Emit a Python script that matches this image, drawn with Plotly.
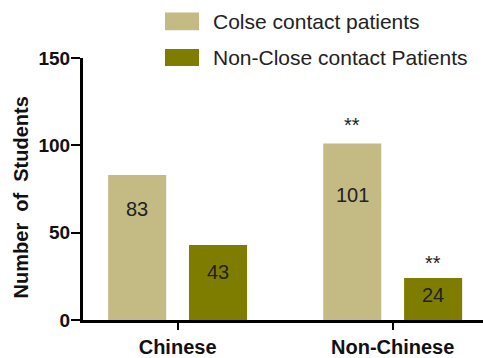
import plotly.graph_objects as go

categories = ["Chinese", "Non-Chinese"]
close_contact = [83, 101]
non_close_contact = [43, 24]
series_names = ["Colse contact patients", "Non-Close contact Patients"]
significance_close = ["", "**"]
significance_non_close = ["", "**"]
y_ticks = [0, 50, 100, 150]
y_title = "Number\u00a0 of\u00a0 Students"

C_CLOSE = "#C3BA84"
C_NON = "#7F7D00"
FONT = "Arial, Liberation Sans, sans-serif"

W, H = 483, 358
L, R, T, B = 83, 0, 58, 35
PW, PH = W - L - R, H - T - B

def px_x(px):
    return (px - L) / PW

def px_y(py):
    return (H - B - py) / PH

fig = go.Figure()
fig.add_trace(go.Bar(x=categories, y=close_contact, name=series_names[0],
                     marker=dict(color=C_CLOSE, line=dict(width=0))))
fig.add_trace(go.Bar(x=categories, y=non_close_contact, name=series_names[1],
                     marker=dict(color=C_NON, line=dict(width=0))))

annotations = []
shift = 40.5
label_offsets_close = [-34, -51]
label_offsets_non = [-27, -17]
star_offsets_close = [19, 19]
star_offsets_non = [15, 15]
for i, cat in enumerate(categories):
    annotations.append(dict(x=cat, y=close_contact[i], xref="x", yref="y",
                            text=str(close_contact[i]), showarrow=False,
                            xshift=-shift, yshift=label_offsets_close[i],
                            font=dict(family=FONT, size=20, color="#222")))
    annotations.append(dict(x=cat, y=non_close_contact[i], xref="x", yref="y",
                            text=str(non_close_contact[i]), showarrow=False,
                            xshift=shift, yshift=label_offsets_non[i],
                            font=dict(family=FONT, size=20, color="#222")))
    if significance_close[i]:
        annotations.append(dict(x=cat, y=close_contact[i], xref="x", yref="y",
                                text=significance_close[i], showarrow=False,
                                xshift=-shift, yshift=star_offsets_close[i],
                                font=dict(family=FONT, size=20, color="#222")))
    if significance_non_close[i]:
        annotations.append(dict(x=cat, y=non_close_contact[i], xref="x", yref="y",
                                text=significance_non_close[i], showarrow=False,
                                xshift=shift, yshift=star_offsets_non[i],
                                font=dict(family=FONT, size=20, color="#222")))

# y-axis title placed as rotated annotation
annotations.append(dict(x=px_x(21), y=px_y(199), xref="paper", yref="paper",
                        text=y_title, textangle=-90, showarrow=False,
                        xanchor="center", yanchor="middle",
                        font=dict(family=FONT, size=20, color="#111", weight="bold")))

# manual legend
shapes = []
legend_rows = [(12, 30, 21), (49, 66, 57.5)]
for (y0, y1, yc), name, col in zip(legend_rows, series_names, [C_CLOSE, C_NON]):
    shapes.append(dict(type="rect", xref="paper", yref="paper",
                       x0=px_x(165), x1=px_x(199), y0=px_y(y1), y1=px_y(y0),
                       fillcolor=col, line=dict(width=0)))
    annotations.append(dict(x=px_x(211), y=px_y(yc), xref="paper", yref="paper",
                            xanchor="left", yanchor="middle", text=name,
                            showarrow=False,
                            font=dict(family=FONT, size=21, color="#222")))

fig.update_layout(
    width=W, height=H,
    margin=dict(l=L, r=R, t=T, b=B, pad=0),
    paper_bgcolor="white", plot_bgcolor="white",
    barmode="group", bargap=0.248, bargroupgap=0.282,
    showlegend=False,
    annotations=annotations, shapes=shapes,
    font=dict(family=FONT, color="#111"),
    xaxis=dict(range=[-0.44, 1.42], showline=True, linecolor="black", linewidth=3,
               ticks="outside", ticklen=7, tickwidth=2, tickcolor="black",
               tickfont=dict(family=FONT, size=20, color="#111", weight="bold"),
               showgrid=False, zeroline=False, fixedrange=True),
    yaxis=dict(range=[0, 150], tickvals=y_ticks, showline=True, linecolor="black",
               linewidth=3, ticks="outside", ticklen=9, tickwidth=2, tickcolor="black",
               ticklabelstandoff=-3,
               tickfont=dict(family=FONT, size=19, color="#111", weight="bold"),
               showgrid=False, zeroline=False),
)

fig.write_html("out.html")
